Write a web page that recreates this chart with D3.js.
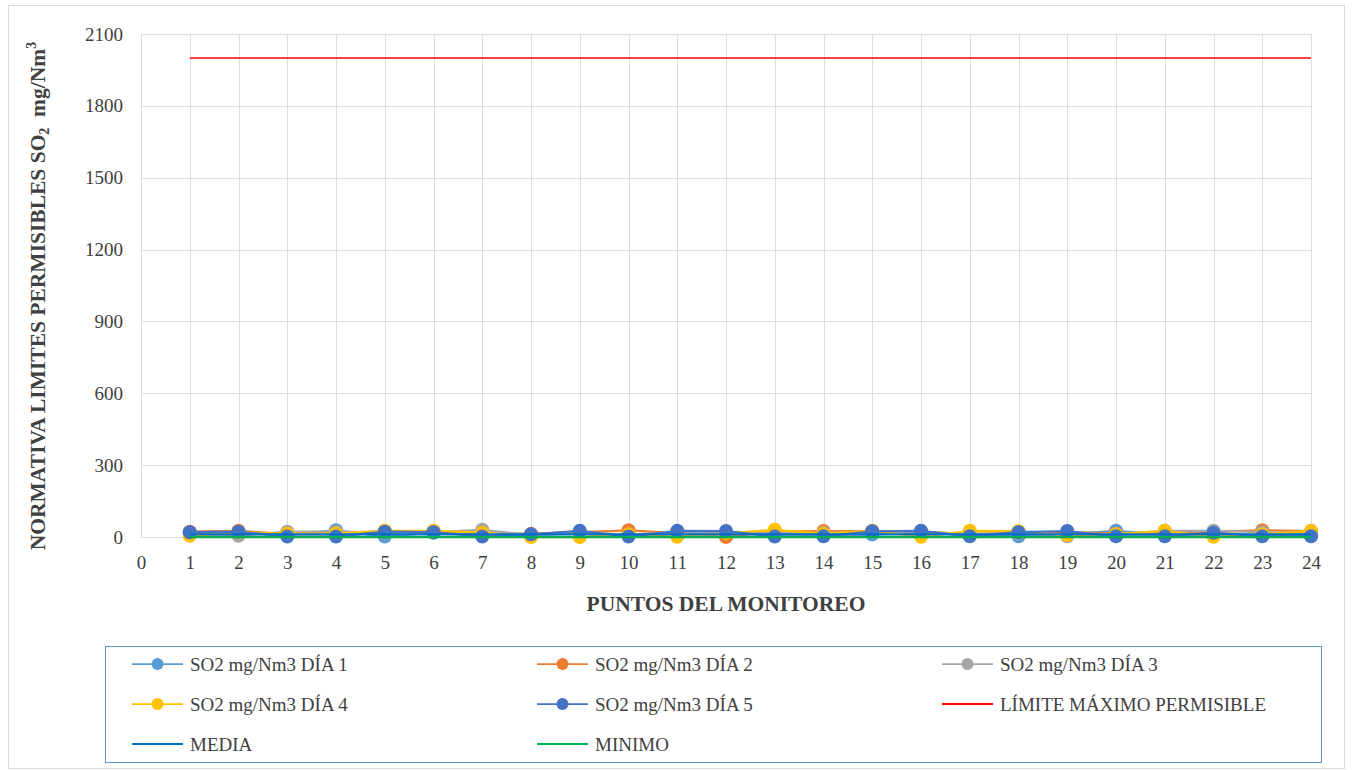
<!DOCTYPE html>
<html>
<head>
<meta charset="utf-8">
<script src="https://cdn.jsdelivr.net/npm/d3@7"></script>
<style>
  html, body { margin: 0; padding: 0; background: #fff; }
  svg { display: block; }
  svg text { font-family: "Liberation Serif", "Times New Roman", serif; }
</style>
</head>
<body>
<svg id="chart" width="1352" height="770"></svg>
<script>
// Monitoring points 1..24
const puntos = d3.range(1, 25);

// SO2 concentrations (mg/Nm3) per monitoring day
const dia1 = [15, 20, 10, 28, 2, 18, 12, 8, 15, 10, 18, 20, 12, 10, 10, 18, 8, 3, 12, 26, 10, 12, 8, 6];
const dia2 = [22, 26, 12, 15, 24, 24, 15, 14, 20, 28, 16, 0, 22, 25, 25, 22, 12, 18, 20, 14, 20, 22, 28, 25];
const dia3 = [10, 5, 22, 22, 18, 20, 30, 8, 18, 10, 18, 18, 14, 18, 22, 20, 12, 15, 3, 12, 26, 26, 20, 18];
const dia4 = [5, 20, 14, 15, 26, 26, 18, 0, 0, 12, 1, 16, 30, 14, 26, 1, 26, 24, 8, 12, 26, 1, 12, 25];
const dia5 = [20, 22, 2, 2, 22, 20, 2, 11, 26, 2, 26, 25, 2, 3, 24, 26, 3, 20, 25, 3, 3, 18, 3, 3];

// Reference levels
const limiteMaximo = 2000;
const media = 11;
const minimo = 0;

// Axis ticks
const yTicks = [0, 300, 600, 900, 1200, 1500, 1800, 2100];
const xTicks = d3.range(0, 25);

const series = [
  { name: "SO2 mg/Nm3 DÍA 1", values: dia1, color: "#5B9BD5" },
  { name: "SO2 mg/Nm3 DÍA 2", values: dia2, color: "#ED7D31" },
  { name: "SO2 mg/Nm3 DÍA 3", values: dia3, color: "#A5A5A5" },
  { name: "SO2 mg/Nm3 DÍA 4", values: dia4, color: "#FFC000" },
  { name: "SO2 mg/Nm3 DÍA 5", values: dia5, color: "#4472C4" }
];
const refLines = [
  { name: "LÍMITE MÁXIMO PERMISIBLE", value: limiteMaximo, color: "#FF0000" },
  { name: "MEDIA", value: media, color: "#0070C0" },
  { name: "MINIMO", value: minimo, color: "#00B050" }
];

const svg = d3.select("#chart");

// Chart frame
svg.append("rect")
  .attr("x", 8.5).attr("y", 5.5).attr("width", 1336).attr("height", 763)
  .attr("fill", "#fff").attr("stroke", "#D9D9D9");

const plot = { left: 141, right: 1311, top: 34, bottom: 537 };

const x = d3.scaleLinear().domain([0, 24]).range([plot.left, plot.right]);
const y = d3.scaleLinear().domain([0, 2100]).range([plot.bottom, plot.top]);

// Gridlines
const grid = svg.append("g").attr("stroke", "#D9DEE6").attr("stroke-width", 1);
grid.selectAll("line.h").data(yTicks).join("line")
  .attr("x1", plot.left).attr("x2", plot.right)
  .attr("y1", d => Math.round(y(d)) + 0.5).attr("y2", d => Math.round(y(d)) + 0.5);
grid.selectAll("line.v").data(xTicks).join("line")
  .attr("y1", plot.top).attr("y2", plot.bottom)
  .attr("x1", d => Math.round(x(d)) + 0.5).attr("x2", d => Math.round(x(d)) + 0.5);

// Y axis labels
const yAxis = svg.append("g")
  .attr("transform", `translate(${plot.left - 18},0)`)
  .call(d3.axisLeft(y).tickValues(yTicks).tickFormat(d3.format("d")).tickSize(0).tickPadding(0));
yAxis.select(".domain").remove();
yAxis.attr("font-family", null).attr("font-size", null);
yAxis.selectAll("text")
  .attr("font-size", 19).attr("fill", "#404040");

// X axis labels
const xAxis = svg.append("g")
  .attr("transform", `translate(0,${plot.bottom + 18})`)
  .call(d3.axisBottom(x).tickValues(xTicks).tickFormat(d3.format("d")).tickSize(0).tickPadding(0));
xAxis.select(".domain").remove();
xAxis.attr("font-family", null).attr("font-size", null);
xAxis.selectAll("text")
  .attr("font-size", 19).attr("fill", "#404040")
  .attr("dy", "0.75em");

// Axis titles
svg.append("text")
  .attr("x", (plot.left + plot.right) / 2).attr("y", 611)
  .attr("text-anchor", "middle")
  .attr("font-size", 21.5).attr("font-weight", "bold").attr("fill", "#404040")
  .text("PUNTOS DEL MONITOREO");

const yTitle = svg.append("text")
  .attr("transform", `translate(45,${296}) rotate(-90)`)
  .attr("text-anchor", "middle")
  .attr("font-size", 21.5).attr("font-weight", "bold").attr("fill", "#404040");
yTitle.append("tspan").text("NORMATIVA LIMITES PERMISIBLES SO");
yTitle.append("tspan").attr("font-size", 14).attr("dy", 4).text("2");
yTitle.append("tspan").attr("dy", -4).text("\u00A0 mg/Nm");
yTitle.append("tspan").attr("font-size", 14).attr("dy", -9).text("3");

// Data series: lines with markers
const line = d3.line().x((d, i) => x(puntos[i])).y(d => y(d));
series.forEach(s => {
  const g = svg.append("g");
  g.append("path").datum(s.values)
    .attr("d", line).attr("fill", "none")
    .attr("stroke", s.color).attr("stroke-width", 2.25)
    .attr("stroke-linejoin", "round");
  g.selectAll("circle").data(s.values).join("circle")
    .attr("cx", (d, i) => x(puntos[i])).attr("cy", d => y(d))
    .attr("r", 7).attr("fill", s.color);
});

// Reference lines
refLines.forEach(r => {
  svg.append("line")
    .attr("x1", x(puntos[0])).attr("x2", x(puntos[puntos.length - 1]))
    .attr("y1", y(r.value)).attr("y2", y(r.value))
    .attr("stroke", r.color).attr("stroke-width", r.name === "LÍMITE MÁXIMO PERMISIBLE" ? 1.5 : 2.25);
});

// Legend
svg.append("rect")
  .attr("x", 105.5).attr("y", 646.5).attr("width", 1216).attr("height", 116)
  .attr("fill", "none").attr("stroke", "#5B9BD5").attr("stroke-width", 1);

const legendItems = [
  ...series.map(s => ({ name: s.name, color: s.color, marker: true })),
  ...refLines.map(r => ({ name: r.name, color: r.color, marker: false }))
];
const colX = [132, 537, 942];
const rowY = [664, 704, 744];
legendItems.forEach((item, i) => {
  const cx = colX[i % 3], cy = rowY[Math.floor(i / 3)];
  const g = svg.append("g").attr("transform", `translate(${cx},${cy})`);
  g.append("line").attr("x1", 0).attr("x2", 51).attr("y1", 0).attr("y2", 0)
    .attr("stroke", item.color).attr("stroke-width", item.marker ? 1.75 : 2);
  if (item.marker) {
    g.append("circle").attr("cx", 25.5).attr("cy", 0).attr("r", 6).attr("fill", item.color);
  }
  g.append("text").attr("x", 58).attr("y", 0).attr("dy", "0.35em")
    .attr("font-size", 19).attr("fill", "#404040")
    .text(item.name);
});
</script>
</body>
</html>
